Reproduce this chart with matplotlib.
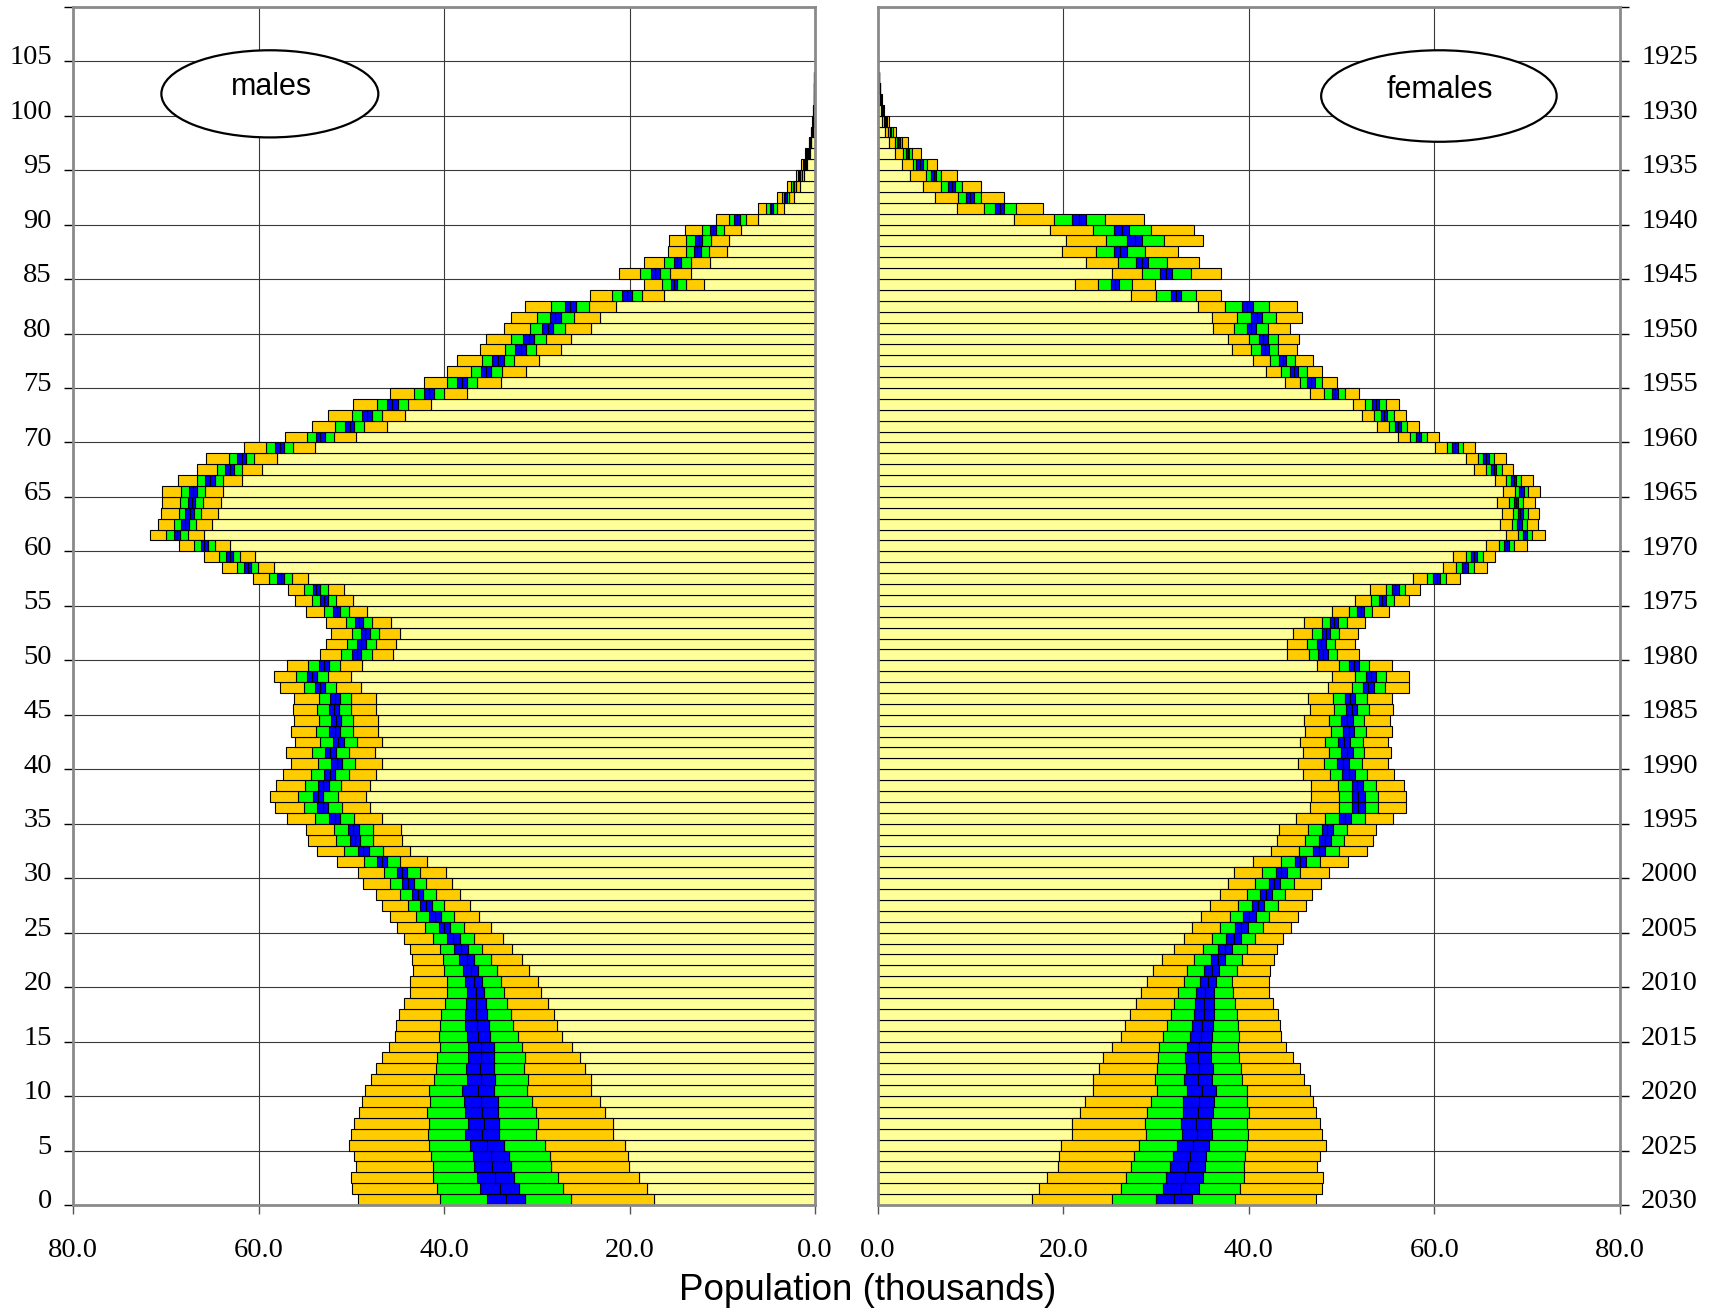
import numpy as np
import matplotlib
matplotlib.use("Agg")
import matplotlib.pyplot as plt
from matplotlib.patches import Ellipse
from matplotlib.transforms import ScaledTranslation

plt.rcParams['font.family'] = ['Liberation Serif', 'DejaVu Serif']

# single years of age 0..103
ages = list(range(104))

# males: inner end of the 95% band (yellow end) and outer end, thousands
male_lo = [17.4, 18.1, 19.0, 20.1, 20.2, 20.5, 21.8, 21.8, 22.7, 23.2,
           24.2, 24.2, 24.8, 25.3, 26.2, 27.3, 27.8, 28.2, 28.8, 29.5,
           29.9, 30.9, 31.6, 32.7, 33.7, 34.9, 36.2, 37.2, 38.3, 39.1,
           39.8, 41.8, 43.7, 44.6, 44.7, 46.7, 48.0, 48.4, 48.0, 47.3,
           46.7, 47.5, 46.7, 47.1, 47.1, 47.4, 47.4, 49.0, 50.1, 48.9,
           45.5, 45.2, 44.8, 45.7, 48.3, 49.8, 50.8, 54.7, 58.4, 60.4,
           63.1, 65.9, 65.0, 64.4, 64.1, 63.8, 61.8, 59.6, 58.0, 53.9,
           49.5, 46.2, 44.2, 41.4, 37.5, 33.9, 31.2, 29.8, 27.4, 26.3,
           24.2, 23.2, 21.5, 16.3, 12.0, 13.4, 11.3, 9.5, 9.3, 8.0,
           6.1, 3.3, 2.3, 1.65, 1.2, 0.83, 0.57, 0.4, 0.25, 0.15,
           0.1, 0.07, 0.05, 0.03]
male_hi = [49.3, 49.9, 50.0, 49.5, 49.7, 50.3, 50.0, 49.7, 49.2, 48.9,
           48.5, 47.9, 47.4, 46.7, 45.9, 45.3, 45.2, 44.9, 44.3, 43.7,
           43.7, 43.4, 43.5, 43.7, 44.3, 45.1, 45.8, 46.7, 47.4, 48.7,
           49.3, 51.6, 53.7, 54.7, 54.9, 56.9, 58.2, 58.8, 58.1, 57.4,
           56.5, 57.1, 56.1, 56.5, 56.2, 56.3, 56.2, 57.7, 58.4, 57.0,
           53.4, 52.7, 52.2, 52.7, 54.9, 56.1, 56.8, 60.6, 64.0, 65.9,
           68.6, 71.7, 70.9, 70.5, 70.4, 70.4, 68.7, 66.7, 65.7, 61.6,
           57.2, 54.2, 52.5, 49.8, 45.8, 42.2, 39.7, 38.6, 36.1, 35.5,
           33.5, 32.8, 31.3, 24.3, 18.4, 21.1, 18.4, 15.9, 15.8, 14.0,
           10.7, 6.1, 4.1, 3.0, 2.1, 1.5, 1.05, 0.68, 0.43, 0.3,
           0.2, 0.15, 0.1, 0.07]
# half width of the blue band and width of each green band
male_blue = [2.05, 2.1, 2.0, 2.0, 1.92, 1.82, 1.85, 1.67, 1.78, 1.85,
             1.69, 1.49, 1.51, 1.4, 1.38, 1.2, 1.29, 1.15, 1.04, 0.93,
             0.93, 0.83, 0.8, 0.75, 0.7, 0.6, 0.61, 0.61, 0.59, 0.61,
             0.58, 0.55, 0.56, 0.55, 0.6, 0.6, 0.6, 0.57, 0.6, 0.62,
             0.63, 0.6, 0.6, 0.6, 0.55, 0.55, 0.55, 0.53, 0.5, 0.5,
             0.5, 0.47, 0.45, 0.45, 0.42, 0.4, 0.38, 0.38, 0.38, 0.38,
             0.36, 0.36, 0.4, 0.45, 0.43, 0.45, 0.5, 0.49, 0.49, 0.5,
             0.49, 0.5, 0.54, 0.61, 0.54, 0.54, 0.54, 0.61, 0.56, 0.58,
             0.59, 0.63, 0.59, 0.54, 0.36, 0.49, 0.4, 0.36, 0.36, 0.34,
             0.32, 0.15, 0.14, 0.1, 0.08, 0.06, 0.05, 0.03, 0.02, 0.01,
             0.01, 0.01, 0.01, 0.01]
male_green = [5.0, 4.7, 4.75, 4.35, 4.5, 4.45, 3.95, 4.2, 4.1, 3.67,
              3.55, 3.6, 3.25, 3.35, 3.05, 3.1, 2.68, 2.65, 2.3, 2.15,
              2.0, 2.0, 1.75, 1.5, 1.47, 1.5, 1.4, 1.33, 1.33, 1.33,
              1.37, 1.44, 1.55, 1.44, 1.5, 1.5, 1.47, 1.55, 1.37, 1.44,
              1.4, 1.4, 1.4, 1.4, 1.3, 1.3, 1.2, 1.19, 1.22, 1.19,
              1.15, 1.11, 1.0, 0.97, 0.9, 0.86, 0.93, 0.9, 0.79, 0.75,
              0.79, 0.83, 0.75, 0.75, 0.79, 0.83, 0.86, 0.9, 0.9, 0.97,
              0.97, 1.08, 1.08, 1.04, 1.08, 1.08, 1.11, 1.08, 1.15, 1.29,
              1.33, 1.37, 1.44, 1.08, 0.97, 1.15, 1.04, 0.86, 1.0, 0.86,
              0.6, 0.43, 0.25, 0.2, 0.15, 0.12, 0.1, 0.08, 0.05, 0.03,
              0.02, 0.02, 0.01, 0.01]

female_lo = [16.6, 17.4, 18.2, 19.4, 19.5, 19.7, 20.9, 20.9, 21.8, 22.3,
             23.2, 23.2, 23.8, 24.3, 25.2, 26.2, 26.6, 27.2, 27.8, 28.4,
             29.0, 29.7, 30.6, 31.9, 33.0, 33.9, 34.8, 35.8, 36.9, 37.7,
             38.4, 40.4, 42.4, 43.0, 43.2, 45.1, 46.6, 46.7, 46.7, 45.8,
             45.3, 45.8, 45.5, 46.1, 45.9, 46.6, 46.4, 48.5, 49.0, 47.3,
             44.1, 44.1, 44.8, 45.9, 49.0, 51.5, 53.1, 57.7, 60.9, 62.0,
             65.6, 67.7, 67.1, 67.3, 66.8, 67.4, 66.5, 64.3, 63.4, 60.1,
             56.1, 53.8, 52.2, 51.2, 46.6, 43.9, 41.8, 40.4, 38.2, 37.7,
             36.1, 36.0, 34.5, 27.3, 21.2, 25.2, 22.4, 19.9, 20.3, 18.5,
             14.7, 8.5, 6.2, 4.8, 3.5, 2.6, 1.8, 1.2, 0.8, 0.47,
             0.33, 0.2, 0.1, 0.05]
female_hi = [47.2, 47.9, 48.0, 47.4, 47.7, 48.3, 47.9, 47.7, 47.2, 46.9,
             46.6, 45.9, 45.5, 44.8, 44.0, 43.5, 43.4, 43.1, 42.6, 42.2,
             42.2, 42.3, 42.7, 43.0, 43.7, 44.5, 45.3, 46.2, 46.8, 47.8,
             48.6, 50.7, 52.7, 53.4, 53.7, 55.6, 57.0, 56.9, 56.7, 55.7,
             55.0, 55.3, 55.0, 55.4, 55.2, 55.6, 55.4, 57.3, 57.3, 55.4,
             51.9, 51.5, 51.8, 52.5, 55.1, 57.3, 58.5, 62.8, 65.7, 66.6,
             70.0, 71.9, 71.2, 71.3, 70.9, 71.4, 70.6, 68.5, 67.7, 64.4,
             60.5, 58.4, 57.0, 56.2, 51.9, 49.5, 47.9, 46.9, 45.2, 45.4,
             44.4, 45.7, 45.2, 37.0, 29.9, 37.0, 34.6, 32.4, 35.1, 34.1,
             28.7, 17.8, 13.6, 11.1, 8.5, 6.4, 4.6, 3.2, 1.9, 1.2,
             0.65, 0.4, 0.25, 0.15]
female_blue = [1.92, 1.94, 2.0, 1.9, 1.8, 1.72, 1.6, 1.65, 1.65, 1.65,
               1.56, 1.5, 1.45, 1.4, 1.3, 1.18, 1.15, 1.1, 1.0, 0.95,
               0.86, 0.8, 0.75, 0.77, 0.77, 0.74, 0.68, 0.66, 0.65, 0.61,
               0.58, 0.59, 0.63, 0.65, 0.61, 0.63, 0.68, 0.68, 0.61, 0.66,
               0.66, 0.63, 0.66, 0.61, 0.63, 0.57, 0.57, 0.59, 0.54, 0.52,
               0.5, 0.48, 0.45, 0.41, 0.38, 0.38, 0.36, 0.34, 0.34, 0.32,
               0.25, 0.25, 0.27, 0.23, 0.23, 0.23, 0.25, 0.29, 0.34, 0.34,
               0.32, 0.32, 0.35, 0.37, 0.32, 0.4, 0.41, 0.4, 0.43, 0.47,
               0.48, 0.61, 0.61, 0.52, 0.45, 0.63, 0.65, 0.66, 0.8, 0.81,
               0.75, 0.48, 0.43, 0.4, 0.27, 0.36, 0.18, 0.14, 0.1, 0.06,
               0.04, 0.03, 0.02, 0.01]
female_green = [4.7, 4.5, 4.35, 4.2, 4.2, 4.1, 3.9, 3.85, 3.85, 3.5,
                3.3, 3.2, 3.1, 3.0, 2.95, 2.9, 2.7, 2.5, 2.3, 2.0,
                1.75, 1.9, 1.87, 1.6, 1.55, 1.55, 1.45, 1.47, 1.4, 1.47,
                1.47, 1.54, 1.5, 1.44, 1.5, 1.5, 1.44, 1.44, 1.44, 1.33,
                1.35, 1.26, 1.36, 1.3, 1.26, 1.33, 1.26, 1.15, 1.15, 1.11,
                1.04, 1.0, 1.0, 0.93, 0.9, 0.86, 0.68, 0.65, 0.65, 0.61,
                0.57, 0.54, 0.54, 0.54, 0.54, 0.5, 0.57, 0.57, 0.54, 0.54,
                0.57, 0.65, 0.7, 0.75, 0.79, 0.83, 0.97, 0.97, 1.0, 1.08,
                1.33, 1.5, 1.76, 1.6, 1.4, 2.0, 1.97, 1.97, 2.3, 2.33,
                2.0, 1.22, 0.83, 0.72, 0.5, 0.4, 0.3, 0.25, 0.15, 0.1,
                0.05, 0.03, 0.02, 0.01]

age_ticks = list(range(0, 111, 5))
x_ticks = [0, 20, 40, 60, 80]

YELLOW, ORANGE, GREEN, BLUE = "#FFFF99", "#FFCC00", "#00FF00", "#0000FF"
W, H = 1716, 1313


def pyramid(ax, lo, hi, blue, green):
    lo, hi, blue, green = map(np.asarray, (lo, hi, blue, green))
    mid = (lo + hi) / 2
    inner = np.maximum(mid - blue - green, lo)
    outer = np.minimum(mid + blue + green, hi)
    edges = [np.zeros_like(lo), lo, inner, mid - blue, mid, mid + blue, outer, hi]
    colors = [YELLOW, ORANGE, GREEN, BLUE, BLUE, GREEN, ORANGE]
    for left, right, col in zip(edges[:-1], edges[1:], colors):
        ax.barh(ages, right - left, left=left, height=1.0, align="edge",
                color=col, edgecolor="black", linewidth=0.8, zorder=2)


def frame(ax, fig, side):
    ax.set_ylim(0, 110)
    ax.set_xticks(x_ticks)
    ax.set_xticklabels(["%.1f" % v for v in x_ticks])
    ax.set_yticks(age_ticks)
    if side == "left":
        labels = [str(a) for a in age_ticks[:-1]] + [""]
    else:
        ax.yaxis.tick_right()
        labels = [str(2030 - a) for a in age_ticks[:-1]] + [""]
    ax.set_yticklabels(labels)
    ax.tick_params(axis="y", direction="out", length=6.5, width=1, labelsize=20.5, pad=9)
    ax.tick_params(axis="x", direction="out", length=6.5, width=1, labelsize=20.5, pad=17,
                   color="#555555")
    ax.grid(True, color="#3a3a3a", linewidth=0.8, zorder=0)
    ax.set_axisbelow(True)
    for sp in ax.spines.values():
        sp.set_color("#8a8a8a")
        sp.set_linewidth(2.0)
        sp.set_zorder(5)
    shift = ScaledTranslation(0, 4.5 / 72, fig.dpi_scale_trans)
    for lab in ax.get_yticklabels():
        lab.set_transform(lab.get_transform() + shift)


fig = plt.figure(figsize=(W / 100, H / 100), dpi=100)
bottom, top = 1205, 6.7
ax_m = fig.add_axes([73.3 / W, (H - bottom) / H, (815 - 73.3) / W, (bottom - top) / H])
ax_f = fig.add_axes([878 / W, (H - bottom) / H, (1619.7 - 878) / W, (bottom - top) / H])

pyramid(ax_m, male_lo, male_hi, male_blue, male_green)
ax_m.set_xlim(80, 0)
frame(ax_m, fig, "left")

pyramid(ax_f, female_lo, female_hi, female_blue, female_green)
ax_f.set_xlim(0, 80)
frame(ax_f, fig, "right")

ax_m.add_patch(Ellipse((58.8, 102.0), 23.4, 8.0, facecolor="white",
                       edgecolor="black", linewidth=1.6, zorder=3))
ax_m.text(58.6, 101.9, "males", ha="center", va="baseline", fontsize=22,
          family="Liberation Sans", zorder=4)
ax_f.add_patch(Ellipse((60.5, 101.8), 25.4, 8.4, facecolor="white",
                       edgecolor="black", linewidth=1.6, zorder=3))
ax_f.text(60.6, 101.6, "females", ha="center", va="baseline", fontsize=22,
          family="Liberation Sans", zorder=4)

fig.text(867.5 / W, 13 / H, "Population (thousands)", ha="center", va="baseline",
         fontsize=26.5, family="Liberation Sans")

fig.savefig("out.png", dpi=100)
